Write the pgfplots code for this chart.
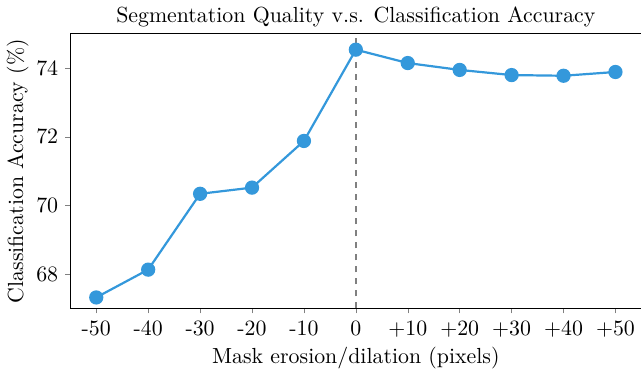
\documentclass[border=0pt]{standalone}
\usepackage{pgfplots}
\pgfplotsset{compat=1.18}
\definecolor{lineblue}{HTML}{3498DB}
\begin{document}
\begin{tikzpicture}
\begin{axis}[
  scale only axis,
  width=285pt, height=137pt,
  xmin=-55, xmax=55, ymin=67, ymax=75,
  axis x line=box, axis y line=left,
  x axis line style={-}, y axis line style={-},
  axis line style={line width=0.6pt},
  tick pos=left, tick align=outside,
  major tick length=2.5pt,
  font=\fontsize{10.9}{13}\selectfont,
  tick label style={font=\fontsize{10.9}{13}\selectfont},
  xtick={-50,-40,-30,-20,-10,0,10,20,30,40,50},
  xticklabels={-50,-40,-30,-20,-10,0,+10,+20,+30,+40,+50},
  ytick={68,70,72,74},
  title={Segmentation Quality v.s. Classification Accuracy},
  title style={yshift=-6pt, font=\fontsize{10.9}{13}\selectfont},
  xlabel={Mask erosion/dilation (pixels)},
  ylabel={Classification Accuracy (\%)},
  label style={font=\fontsize{10.9}{13}\selectfont},
  xlabel style={yshift=2pt},
  ylabel style={yshift=-3pt},
]
\addplot[gray, dashed, line width=0.7pt, forget plot] coordinates {(0,67) (0,75)};
\addplot[lineblue, line width=1.1pt, mark=*, mark size=3pt, mark options={fill=lineblue, draw=lineblue}]
coordinates {
(-50,67.32) (-40,68.13) (-30,70.34) (-20,70.52) (-10,71.88) (0,74.54)
(10,74.15) (20,73.95) (30,73.80) (40,73.78) (50,73.89)
};
\end{axis}
\end{tikzpicture}
\end{document}
